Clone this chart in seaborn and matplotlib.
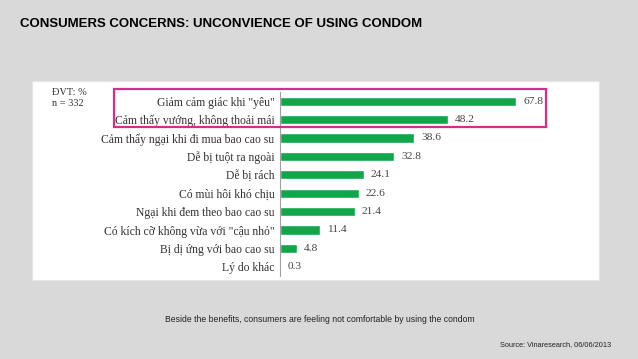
import matplotlib
matplotlib.use("Agg")
import matplotlib.pyplot as plt
import matplotlib.patches as patches
import pandas as pd
import seaborn as sns

# =============================
# DATA
# =============================

reasons = [
    'Giảm cảm giác khi "yêu"',
    "Cảm thấy vướng, không thoải mái",
    "Cảm thấy ngại khi đi mua bao cao su",
    "Dễ bị tuột ra ngoài",
    "Dễ bị rách",
    "Có mùi hôi khó chịu",
    "Ngại khi đem theo bao cao su",
    'Có kích cỡ không vừa với "cậu nhỏ"',
    "Bị dị ứng với bao cao su",
    "Lý do khác",
]
percent = [67.8, 48.2, 38.6, 32.8, 24.1, 22.6, 21.4, 11.4, 4.8, 0.3]

title = "CONSUMERS CONCERNS: UNCONVIENCE OF USING CONDOM"
unit_note = "ĐVT: %\nn = 332"
caption = "Beside the benefits, consumers are feeling not comfortable by using the condom"
source = "Source: Vinaresearch, 06/06/2013"

df = pd.DataFrame({"reason": reasons, "percent": percent})

# =============================
# FIGURE
# =============================

sns.set_style("white")
W, H = 638, 359
fig = plt.figure(figsize=(W / 100, H / 100), dpi=100, facecolor="#d9d9d9")

# white panel behind the chart
fig.patches.append(patches.Rectangle((32 / W, 1 - 280 / H), (599 - 32) / W, (280 - 81) / H,
                                     transform=fig.transFigure, facecolor="white",
                                     edgecolor="#e6e6e6", lw=0.8, zorder=-5))

ax = fig.add_axes([280 / W, 1 - 276 / H, 310 / W, 184 / H])
ax.set_zorder(2)
ax.set_facecolor("none")
sns.barplot(data=df, y="reason", x="percent", orient="h", color="#12a64b",
            width=0.5, saturation=1, ax=ax)
ax.set_xlim(0, 89)
ax.set_xlabel("")
ax.set_ylabel("")
ax.set_xticks([])
for s in ["top", "right", "bottom"]:
    ax.spines[s].set_visible(False)
ax.spines["left"].set_color("#a0a0a0")
ax.spines["left"].set_linewidth(0.8)
ax.tick_params(axis="y", length=0, pad=4)
for lbl in ax.get_yticklabels():
    lbl.set_family(["Liberation Serif", "DejaVu Serif"])
    lbl.set_fontsize(8.4)
    lbl.set_color("#333333")

ax.bar_label(ax.containers[0], labels=[f"{v:.1f}" for v in percent], padding=5,
             fontsize=8.2, color="#444444", family=["Liberation Serif", "DejaVu Serif"])

# highlight box around the top two reasons
fig.patches.append(patches.Rectangle((114 / W, 1 - 127 / H), (546 - 114) / W, (127 - 89) / H,
                                     transform=fig.transFigure, facecolor="none",
                                     edgecolor="#d02f8c", lw=1.6, zorder=5))

fig.text(52 / W, 1 - 98 / H, unit_note, fontsize=7.5, color="#333333", va="center",
         family=["Liberation Serif", "DejaVu Serif"], linespacing=1.15)

fig.text(20 / W, 1 - 24 / H, title, fontsize=9.5, fontweight="bold", va="center",
         family=["Liberation Sans", "DejaVu Sans"], color="black")
fig.text(165 / W, 1 - 320 / H, caption, fontsize=6.2, va="center", color="#222222",
         family=["Liberation Sans", "DejaVu Sans"])
fig.text(611 / W, 1 - 345 / H, source, fontsize=5.3, va="center", ha="right", color="#222222",
         family=["Liberation Sans", "DejaVu Sans"])

fig.savefig("out.png", dpi=100, facecolor=fig.get_facecolor())
